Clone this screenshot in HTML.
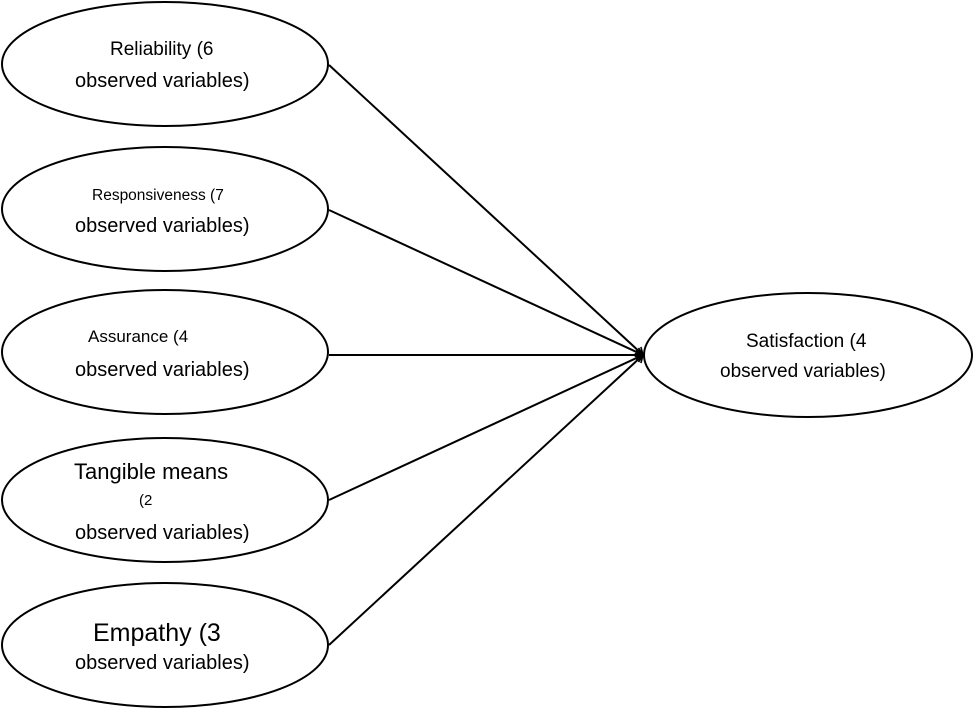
<!DOCTYPE html>
<html><head><style>
html,body{margin:0;padding:0;background:#fff;}
svg{display:block;}
text{font-family:"Liberation Sans",Arial,sans-serif;fill:#000;}
</style></head><body>
<svg width="973" height="710" viewBox="0 0 973 710" xmlns="http://www.w3.org/2000/svg">
<defs>
<marker id="a" markerWidth="12" markerHeight="12" refX="10" refY="6" orient="auto" markerUnits="userSpaceOnUse">
<path d="M3,1.5 L10,6 L3,10.5" fill="none" stroke="#000" stroke-width="1.6"/>
</marker>
</defs>
<g fill="none" stroke="#000" stroke-width="2">
<ellipse cx="165" cy="64" rx="163" ry="62"/>
<ellipse cx="165" cy="209" rx="163" ry="62"/>
<ellipse cx="165" cy="352" rx="163" ry="62"/>
<ellipse cx="165" cy="500" rx="163" ry="62"/>
<ellipse cx="165" cy="645" rx="163" ry="62"/>
<ellipse cx="808" cy="355" rx="164" ry="62"/>
<line x1="329" y1="65" x2="643" y2="355" marker-end="url(#a)"/>
<line x1="329" y1="210" x2="643" y2="355" marker-end="url(#a)"/>
<line x1="329" y1="355" x2="643" y2="355" marker-end="url(#a)"/>
<line x1="329" y1="500" x2="643" y2="355" marker-end="url(#a)"/>
<line x1="329" y1="645" x2="643" y2="355" marker-end="url(#a)"/>
</g>
<text x="110" y="55" font-size="19">Reliability (6</text>
<text x="75" y="87" font-size="20">observed variables)</text>
<text x="92" y="200" font-size="15.5">Responsiveness (7</text>
<text x="75" y="232" font-size="20">observed variables)</text>
<text x="88" y="342" font-size="17">Assurance (4</text>
<text x="75" y="376" font-size="20">observed variables)</text>
<text x="74" y="479" font-size="22">Tangible means</text>
<text x="139" y="505" font-size="15">(2</text>
<text x="75" y="539" font-size="20">observed variables)</text>
<text x="93" y="641" font-size="25">Empathy (3</text>
<text x="75" y="669" font-size="20">observed variables)</text>
<text x="746" y="347" font-size="19">Satisfaction (4</text>
<text x="720" y="377" font-size="19">observed variables)</text>
</svg>
</body></html>
